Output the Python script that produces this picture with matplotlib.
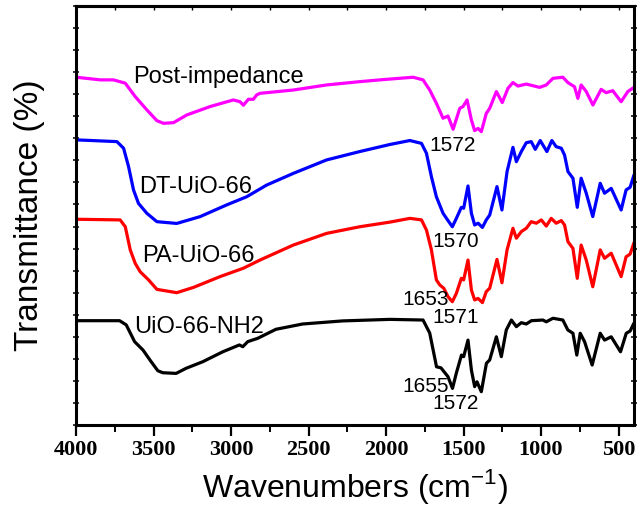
import matplotlib
matplotlib.use("Agg")
import matplotlib.pyplot as plt
from matplotlib.ticker import MultipleLocator

# ---------------- data (wavenumber cm-1, transmittance a.u. offset) ----------------
nh2_w = [4000, 3719, 3676, 3622, 3568, 3515, 3472, 3440, 3354, 3290, 3182, 3053, 2946, 2924,
         2892, 2828, 2710, 2538, 2280, 1975, 1761, 1718, 1674, 1645, 1600, 1571, 1546, 1513,
         1499, 1471, 1449, 1428, 1413, 1385, 1352, 1331, 1288, 1256, 1224, 1191, 1159, 1127,
         1095, 1062, 988, 966, 923, 859, 827, 794, 769, 747, 719, 670, 618, 590, 547, 487,
         450, 425, 401]
nh2_t = [4.73, 4.73, 4.54, 3.78, 3.40, 2.87, 2.46, 2.37, 2.34, 2.57, 2.87, 3.32, 3.63, 3.55,
         3.78, 3.93, 4.34, 4.58, 4.72, 4.79, 4.76, 4.17, 2.64, 2.59, 2.19, 1.66, 2.36, 3.17,
         3.10, 3.85, 2.49, 1.74, 1.96, 1.51, 2.80, 2.95, 4.00, 3.10, 4.31, 4.76, 4.46, 4.64,
         4.58, 4.73, 4.76, 4.68, 4.84, 4.76, 4.31, 4.16, 3.17, 4.16, 3.78, 2.72, 4.16, 3.85,
         4.00, 3.32, 4.16, 4.26, 4.61]

pa_w = [4000, 3715, 3682, 3650, 3618, 3586, 3532, 3478, 3350, 3242, 3070, 2920, 2813, 2598,
        2383, 2169, 1975, 1846, 1771, 1739, 1707, 1675, 1653, 1627, 1600, 1572, 1546, 1514,
        1499, 1471, 1449, 1428, 1406, 1378, 1353, 1331, 1284, 1252, 1219, 1181, 1159, 1127,
        1095, 1063, 1030, 998, 966, 934, 902, 869, 848, 826, 794, 766, 741, 708, 666, 618,
        590, 547, 483, 451, 425, 400]
pa_t = [9.33, 9.30, 8.99, 7.94, 7.33, 6.95, 6.58, 6.15, 6.00, 6.24, 6.73, 7.11, 7.48, 8.16,
        8.69, 8.99, 9.20, 9.37, 9.30, 8.84, 7.94, 6.58, 6.35, 6.20, 5.82, 5.59, 5.97, 6.65,
        6.58, 7.48, 6.12, 5.67, 5.74, 5.55, 6.05, 6.20, 7.51, 6.45, 7.94, 8.92, 8.47, 8.77,
        8.92, 9.22, 9.15, 9.30, 9.02, 9.37, 9.15, 9.27, 9.07, 8.31, 8.01, 6.65, 8.16, 7.48,
        6.27, 7.94, 7.56, 7.79, 6.73, 7.63, 7.75, 8.27]

dt_w = [4000, 3736, 3693, 3661, 3629, 3597, 3543, 3478, 3350, 3199, 3028, 2899, 2770, 2598,
        2383, 2169, 1975, 1846, 1771, 1739, 1707, 1675, 1632, 1600, 1572, 1546, 1514, 1499,
        1471, 1449, 1428, 1406, 1378, 1353, 1331, 1284, 1252, 1219, 1181, 1159, 1127, 1095,
        1063, 1037, 1005, 962, 930, 902, 869, 848, 826, 794, 766, 741, 708, 666, 618, 590,
        547, 483, 451, 425, 400]
dt_t = [12.93, 12.85, 12.55, 11.72, 10.66, 10.05, 9.60, 9.22, 9.14, 9.45, 9.98, 10.35, 10.88,
        11.41, 12.02, 12.40, 12.72, 12.90, 12.77, 12.32, 11.26, 10.35, 9.60, 9.27, 8.99, 9.37,
        9.87, 9.83, 10.84, 9.60, 9.07, 9.15, 8.96, 9.30, 9.52, 10.81, 9.75, 11.49, 12.59,
        11.94, 12.40, 12.80, 12.85, 12.50, 12.90, 12.40, 12.90, 12.62, 12.55, 12.24, 11.49,
        11.19, 9.87, 11.19, 10.51, 9.45, 10.96, 10.51, 10.73, 9.75, 10.66, 10.78, 11.34]

post_w = [4000, 3843, 3758, 3682, 3618, 3543, 3478, 3436, 3371, 3285, 3135, 2985, 2942, 2920,
          2888, 2856, 2834, 2813, 2598, 2383, 2169, 2040, 1825, 1761, 1718, 1675, 1632, 1600,
          1567, 1524, 1503, 1477, 1449, 1428, 1406, 1385, 1353, 1331, 1288, 1250, 1213, 1181,
          1149, 1095, 1009, 966, 923, 859, 827, 784, 762, 741, 708, 665, 612, 580, 537, 483,
          440, 400]
post_t = [15.77, 15.65, 15.65, 15.50, 14.89, 14.29, 13.80, 13.68, 13.71, 14.06, 14.44, 14.74,
          14.66, 14.50, 14.77, 14.77, 14.97, 15.04, 15.19, 15.42, 15.57, 15.65, 15.77, 15.65,
          15.19, 14.59, 13.91, 14.01, 13.41, 14.36, 14.44, 14.74, 13.83, 13.35, 13.45, 13.30,
          14.13, 14.36, 15.12, 14.62, 15.27, 15.53, 15.37, 15.46, 15.31, 15.42, 15.72, 15.77,
          15.53, 15.34, 14.81, 15.42, 15.12, 14.51, 15.22, 15.07, 15.16, 14.66, 15.12, 15.31]

series_names = ["UiO-66-NH2", "PA-UiO-66", "DT-UiO-66", "Post-impedance"]
series_colors = ["black", "#ff0000", "#0000ff", "#ff00ff"]
name_pos = [(3624, 4.19), (3575, 7.41), (3592, 10.54), (3631, 15.50)]

peak_labels = ["1655", "1572", "1653", "1571", "1570", "1572"]
peak_pos = [(1893, 1.51), (1699, 0.71), (1893, 5.44), (1699, 4.64), (1699, 8.09), (1718, 12.44)]

xticks = [4000, 3500, 3000, 2500, 2000, 1500, 1000, 500]

# ---------------- plot ----------------
plt.rcParams['font.family'] = ['Liberation Sans', 'DejaVu Sans']
plt.rcParams['mathtext.fontset'] = 'custom'
plt.rcParams['mathtext.rm'] = 'Liberation Sans'

fig = plt.figure(figsize=(6.38, 5.17), dpi=100)
ax = fig.add_axes([76 / 638, 1 - 425 / 517, (634 - 76) / 638, (425 - 6) / 517])

for w, t, c in zip([nh2_w, pa_w, dt_w, post_w], [nh2_t, pa_t, dt_t, post_t], series_colors):
    ax.plot(w, t, color=c, lw=2.3, solid_joinstyle='round', solid_capstyle='round')

for name, (x, y) in zip(series_names, name_pos):
    ax.text(x, y, name, fontsize=17, ha='left', va='baseline', color='black')

for lab, (x, y) in zip(peak_labels, peak_pos):
    ax.text(x, y, lab, fontsize=15, ha='left', va='baseline', color='black')

ax.set_xlim(4000, 400)
ax.set_ylim(0, 19)
ax.set_xticks(xticks)
ax.xaxis.set_minor_locator(MultipleLocator(250))
ax.yaxis.set_major_locator(MultipleLocator(1))
ax.set_yticklabels([])

for lab in ax.get_xticklabels():
    lab.set_fontfamily('Liberation Serif')
    lab.set_fontweight('bold')
    lab.set_fontsize(16)

ax.tick_params(axis='x', which='major', direction='out', length=8, width=1.6, pad=3, bottom=True, top=False)
ax.tick_params(axis='x', which='minor', direction='out', length=5, width=1.4, bottom=True, top=False)
ax.tick_params(axis='y', which='major', direction='inout', length=5, width=1.1, left=True, right=True)

# small top-axis tick marks
secx = ax.secondary_xaxis('top')
secx.set_xticks(xticks)
secx.xaxis.set_minor_locator(MultipleLocator(250))
secx.set_xticklabels([])
secx.tick_params(which='both', direction='in', length=3, width=1.0)
secx.spines['top'].set_linewidth(2.2)

for s in ax.spines.values():
    s.set_linewidth(2.2)

ax.set_xlabel('Wavenumbers (cm$^{\\mathregular{-1}}$)', fontsize=23, labelpad=5)
ax.set_ylabel('Transmittance (%)', fontsize=24, labelpad=16)

fig.savefig('out.png', dpi=100)
